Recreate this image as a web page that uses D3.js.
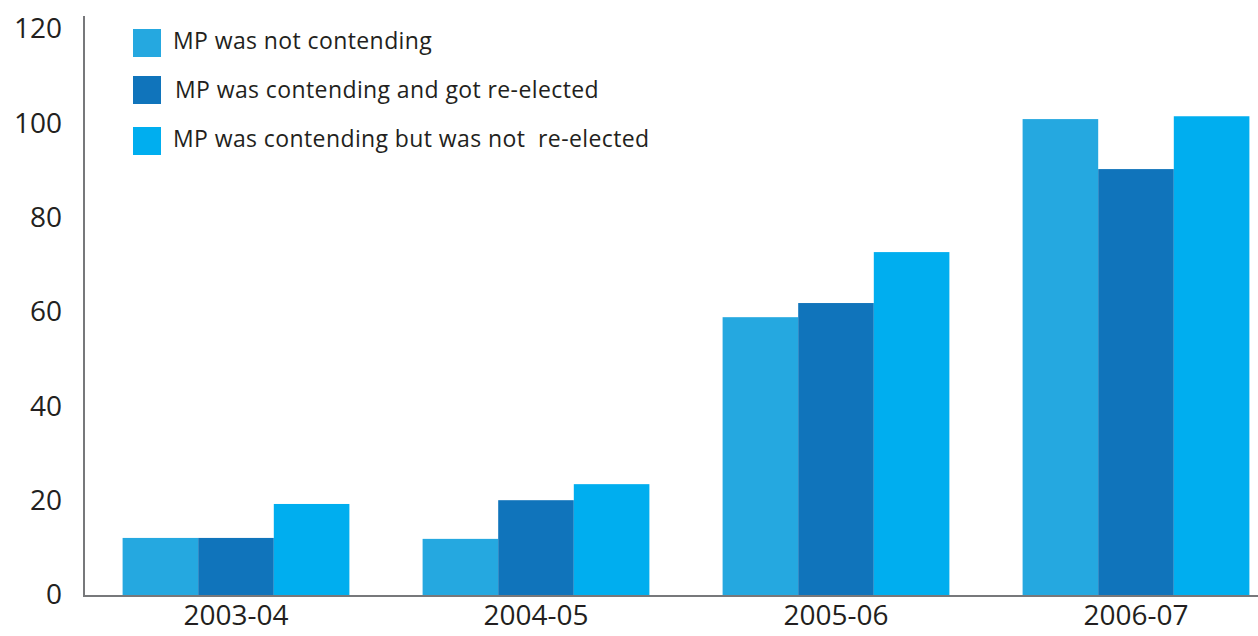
<!DOCTYPE html>
<html>
<head>
<meta charset="utf-8">
<script src="https://cdn.jsdelivr.net/npm/d3@7"></script>
<style>
  body { margin: 0; background: white; }
  text { font-family: "Open Sans", Lato, sans-serif; fill: #231f20; }
</style>
</head>
<body>
<svg id="chart"></svg>
<script>
// grouped bars, MP contention by year
var W = 1258;
var H = 636;
var margin = {top: 29, right: -30, bottom: 41, left: 84};

var years = ["2003-04", "2004-05", "2005-06", "2006-07"];
var series = ["MP was not contending", "MP was contending and got re-elected", "MP was contending but was not  re-elected"];
var notContending = [12.1, 11.9, 58.9, 100.9];
var reElected = [12.1, 20.1, 61.9, 90.3];
var notReElected = [19.3, 23.5, 72.7, 101.5];
var yTicks = [0, 20, 40, 60, 80, 100, 120];
var colors = ["#25a8e0", "#1074bb", "#00aeef"];

var values = [notContending, reElected, notReElected];
var rows = years.map((yr, i) => ({year: yr, vals: values.map(v => v[i])}));

var svg = d3.select("#chart")
  .attr("width", W)
  .attr("height", H);

var x0 = d3.scaleBand()
  .domain(years)
  .range([86, 1286])
  .paddingInner(0.244)
  .paddingOuter(0.122);

var x1 = d3.scaleBand()
  .domain(d3.range(series.length))
  .range([0, x0.bandwidth()]);

var y = d3.scaleLinear()
  .domain([0, 120])
  .range([H - 41, 29]);

var color = d3.scaleOrdinal()
  .domain(d3.range(series.length))
  .range(colors);

// bars
var group = svg.selectAll("g.year")
  .data(rows)
  .enter()
  .append("g")
  .attr("class", "year")
  .attr("transform", d => `translate(${x0(d.year)},0)`);

group.selectAll("rect")
  .data(d => d.vals)
  .enter()
  .append("rect")
  .attr("x", (d, i) => x1(i))
  .attr("width", x1.bandwidth())
  .attr("y", d => y(d))
  .attr("height", d => y(0) - y(d) + 1)
  .attr("fill", (d, i) => color(i));

// axis lines
svg.append("line")
  .attr("x1", margin.left).attr("x2", margin.left)
  .attr("y1", 16).attr("y2", y(0) + 1)
  .attr("stroke", "#77787b")
  .attr("stroke-width", 2);

svg.append("line")
  .attr("x1", margin.left - 1).attr("x2", W)
  .attr("y1", y(0) + 1).attr("y2", y(0) + 1)
  .attr("stroke", "#77787b")
  .attr("stroke-width", 2);

// y labels
svg.append("g")
  .attr("transform", `translate(${margin.left},0)`)
  .call(d3.axisLeft(y).tickValues(yTicks).tickSize(0).tickPadding(22))
  .call(g => g.select(".domain").remove())
  .call(g => g.selectAll("text")
    .style("font-size", "28px")
    .attr("fill", "#231f20"));

// x labels
svg.append("g")
  .attr("transform", `translate(0,${y(0)})`)
  .call(d3.axisBottom(x0).tickSize(0).tickPadding(10))
  .call(g => g.select(".domain").remove())
  .call(g => g.selectAll("text")
    .style("font-size", "28px")
    .attr("fill", "#231f20"));

// legend
var legend = svg.append("g")
  .attr("transform", "translate(133,29)");

var item = legend.selectAll("g")
  .data(series)
  .enter()
  .append("g")
  .attr("transform", (d, i) => `translate(0,${[0, 47, 98][i]})`);

item.append("rect")
  .attr("width", 28)
  .attr("height", 28)
  .attr("fill", (d, i) => color(i));

item.append("text")
  .attr("x", (d, i) => i == 1 ? 42 : 40)
  .attr("y", (d, i) => i == 1 ? 22 : 20)
  .style("font-size", "23px")
  .style("letter-spacing", "0.4px")
  .style("white-space", "pre")
  .text(d => d);
</script>
</body>
</html>
